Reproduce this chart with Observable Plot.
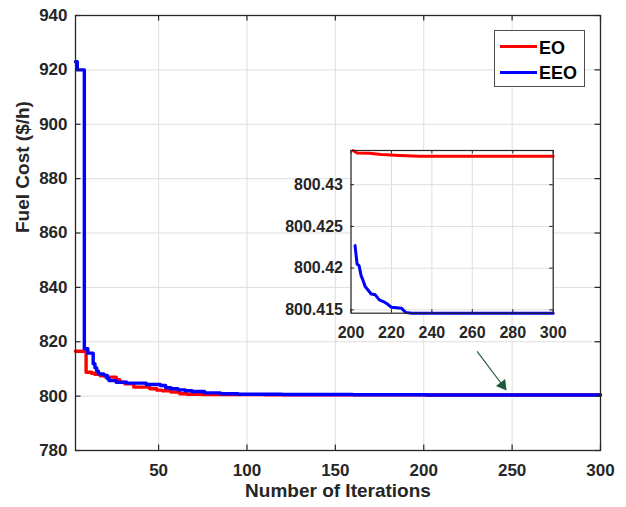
<!DOCTYPE html>
<html>
<head>
<meta charset="utf-8">
<script src="https://cdn.jsdelivr.net/npm/d3@7"></script>
<script src="https://cdn.jsdelivr.net/npm/@observablehq/plot@0.6"></script>
<style>
  html, body { margin: 0; padding: 0; background: #fff; }
  #wrap { position: relative; width: 626px; height: 507px; font-family: "Liberation Sans", Arial, sans-serif; }
  #wrap > svg { position: absolute; left: 0; top: 0; }
  #insetBox { position: absolute; left: 280px; top: 140px; }
  #legend { position: absolute; left: 494px; top: 30px; width: 91px; height: 57px; border: 1px solid #4d4d4d; background: #fff; box-sizing: border-box; }
  #legend .ln { position: absolute; height: 3px; width: 37px; left: 5px; }
  #legend .tx { position: absolute; left: 44px; font-size: 18px; line-height: 18px; font-weight: bold; color: #000; white-space: nowrap; }
</style>
</head>
<body>
<div id="wrap">
  <div id="mainBox"></div>
  <div id="insetBox"></div>
  <div id="legend"></div>
</div>
<script>
// ---------- data ----------
const seriesNames = ["EO", "EEO"];
const seriesColors = ["#ff0000", "#0000ff"];

// main chart: change points of the convergence curves
const eoIter  = [3, 9, 12, 14, 17, 20, 26, 28, 31, 36, 45, 49, 52, 57, 62, 66, 75, 90, 110, 140, 170, 201, 234, 300];
const eoCost  = [816.5, 808.8, 808.4, 808.0, 807.5, 807.0, 806.0, 805.1, 804.5, 803.3, 802.7, 802.2, 802.0, 801.5, 800.9, 800.7, 800.6, 800.55, 800.5, 800.47, 800.45, 800.4341, 800.4334, 800.4334];
const eeoIter = [3, 4, 8, 10, 13, 14, 15, 16, 19, 21, 22, 26, 32, 43, 51, 54, 57, 61, 65, 69, 76, 85, 95, 120, 160, 202, 230, 300];
const eeoCost = [923, 920, 817.4, 815.8, 811.9, 810.4, 809.2, 808.2, 807.6, 806.5, 805.7, 805.1, 804.8, 804.3, 803.9, 803.1, 802.7, 802.3, 802.0, 801.7, 801.2, 800.9, 800.7, 800.6, 800.5, 800.4227, 800.4146, 800.4146];

// inset (zoom of iterations 200-300)
const eoZoomIter  = [201, 203, 209, 215, 224, 234, 300];
const eoZoomCost  = [800.4341, 800.4338, 800.43378, 800.43362, 800.4335, 800.4334, 800.4334];
const eeoZoomIter = [202, 203, 204, 205, 206, 207, 208, 210, 212, 214, 216, 218, 220, 225, 227, 230, 300];
const eeoZoomCost = [800.4227, 800.4205, 800.4203, 800.4191, 800.4185, 800.4178, 800.4175, 800.4169, 800.4168, 800.4162, 800.4160, 800.4157, 800.4153, 800.4152, 800.4147, 800.4146, 800.4146];

// ticks
const xTicks = [50, 100, 150, 200, 250, 300];
const yTicks = [780, 800, 820, 840, 860, 880, 900, 920, 940];
const xZoomTicks = [200, 220, 240, 260, 280, 300];
const yZoomTicks = [800.415, 800.42, 800.425, 800.43];

// annotation arrow (from, head)
const arrowFrom = [230.2, 816.5];
const arrowHead = [244.6, 804.0];

// labels
const xLabel = "Number of Iterations";
const yLabel = "Fuel Cost ($/h)";

// ---------- build ----------
const toRows = (xs, ys) => xs.map((x, i) => ({iter: x, cost: ys[i]}));
const eo = toRows(eoIter, eoCost);
const eeo = toRows(eeoIter, eeoCost);
const eoZ = toRows(eoZoomIter, eoZoomCost);
const eeoZ = toRows(eeoZoomIter, eeoZoomCost);

const FONT = '"Liberation Sans", Arial, sans-serif';
const INK = "#262626";
const GRID = "#dfdfdf";

// main chart
const mW = 626, mH = 507, mL = 75, mR = 26, mT = 15, mB = 57;
const fW = mW - mL - mR, fH = mH - mT - mB;
const tk = 5.5;

const main = Plot.plot({
  width: mW, height: mH,
  marginLeft: mL, marginRight: mR, marginTop: mT, marginBottom: mB,
  style: {fontFamily: FONT, background: "transparent", overflow: "visible"},
  x: {domain: [3, 300], axis: null},
  y: {domain: [780, 940], axis: null},
  marks: [
    Plot.ruleX(xTicks, {x: d => d, stroke: GRID, strokeWidth: 1}),
    Plot.ruleY(yTicks, {y: d => d, stroke: GRID, strokeWidth: 1}),
    Plot.line(eo, {x: "iter", y: "cost", stroke: seriesColors[0], strokeWidth: 3.4, curve: "step-after"}),
    Plot.line(eeo, {x: "iter", y: "cost", stroke: seriesColors[1], strokeWidth: 3.4, curve: "step-after"}),
    Plot.link([0], {x1: () => arrowFrom[0], y1: () => arrowFrom[1], x2: () => arrowHead[0], y2: () => arrowHead[1], stroke: "#1e5b3b", strokeWidth: 1.2}),
    Plot.dot([0], {x: () => arrowHead[0], y: () => arrowHead[1], symbol: "triangle", rotate: 143.3, r: 4.3, fill: "#1e5b3b", stroke: "none"}),
    Plot.frame({stroke: INK, strokeWidth: 1.3}),
    Plot.ruleX(xTicks, {x: d => d, insetTop: fH - tk, stroke: INK, strokeWidth: 1.2}),
    Plot.ruleX(xTicks, {x: d => d, insetBottom: fH - tk, stroke: INK, strokeWidth: 1.2}),
    Plot.ruleY(yTicks, {y: d => d, insetRight: fW - tk, stroke: INK, strokeWidth: 1.2}),
    Plot.ruleY(yTicks, {y: d => d, insetLeft: fW - tk, stroke: INK, strokeWidth: 1.2}),
    Plot.axisX(xTicks, {tickSize: 0, tickPadding: 13, fontSize: 17, fontWeight: "bold", color: INK, label: null, tickFormat: d => String(d)}),
    Plot.axisY(yTicks, {tickSize: 0, tickPadding: 8, fontSize: 17, fontWeight: "bold", color: INK, label: null, tickFormat: d => String(d)}),
    Plot.text([xLabel], {frameAnchor: "bottom", dy: 46, text: d => d, fontSize: 19, fontWeight: "bold", fill: INK}),
    Plot.text([yLabel], {frameAnchor: "left", dx: -53, rotate: -90, text: d => d, fontSize: 19, fontWeight: "bold", fill: INK})
  ]
});
document.getElementById("mainBox").appendChild(main);

// inset chart
const iW = 290, iH = 205, iL = 70.5, iR = 17.3, iT = 10, iB = 32.3;
const ifW = iW - iL - iR, ifH = iH - iT - iB;
const itk = 3.5;
const inset = Plot.plot({
  width: iW, height: iH,
  marginLeft: iL, marginRight: iR, marginTop: iT, marginBottom: iB,
  style: {fontFamily: FONT, background: "transparent", overflow: "visible"},
  x: {domain: [200, 300], axis: null},
  y: {domain: [800.4146, 800.4341], axis: null},
  marks: [
    Plot.frame({fill: "white", stroke: "none"}),
    Plot.ruleX(xZoomTicks, {x: d => d, stroke: GRID, strokeWidth: 1}),
    Plot.ruleY(yZoomTicks, {y: d => d, stroke: GRID, strokeWidth: 1}),
    Plot.line(eoZ, {x: "iter", y: "cost", stroke: seriesColors[0], strokeWidth: 3}),
    Plot.line(eeoZ, {x: "iter", y: "cost", stroke: seriesColors[1], strokeWidth: 3}),
    Plot.frame({stroke: INK, strokeWidth: 1.2}),
    Plot.ruleX(xZoomTicks, {x: d => d, insetTop: ifH - itk, stroke: INK, strokeWidth: 1}),
    Plot.ruleX(xZoomTicks, {x: d => d, insetBottom: ifH - itk, stroke: INK, strokeWidth: 1}),
    Plot.ruleY(yZoomTicks, {y: d => d, insetRight: ifW - itk, stroke: INK, strokeWidth: 1}),
    Plot.ruleY(yZoomTicks, {y: d => d, insetLeft: ifW - itk, stroke: INK, strokeWidth: 1}),
    Plot.axisX(xZoomTicks, {tickSize: 0, tickPadding: 13, fontSize: 16, fontWeight: "bold", color: INK, label: null, tickFormat: d => String(d)}),
    Plot.axisY(yZoomTicks, {tickSize: 0, tickPadding: 8, fontSize: 16, fontWeight: "bold", color: INK, label: null, tickFormat: d => String(d)})
  ]
});
document.getElementById("insetBox").appendChild(inset);

// legend
const legend = document.getElementById("legend");
seriesNames.forEach((name, i) => {
  const ln = document.createElement("div");
  ln.className = "ln";
  ln.style.top = (13.5 + i * 26.5) + "px";
  ln.style.background = seriesColors[i];
  legend.appendChild(ln);
  const tx = document.createElement("div");
  tx.className = "tx";
  tx.style.top = (7.5 + i * 25.5) + "px";
  tx.textContent = name;
  legend.appendChild(tx);
});
</script>
</body>
</html>
